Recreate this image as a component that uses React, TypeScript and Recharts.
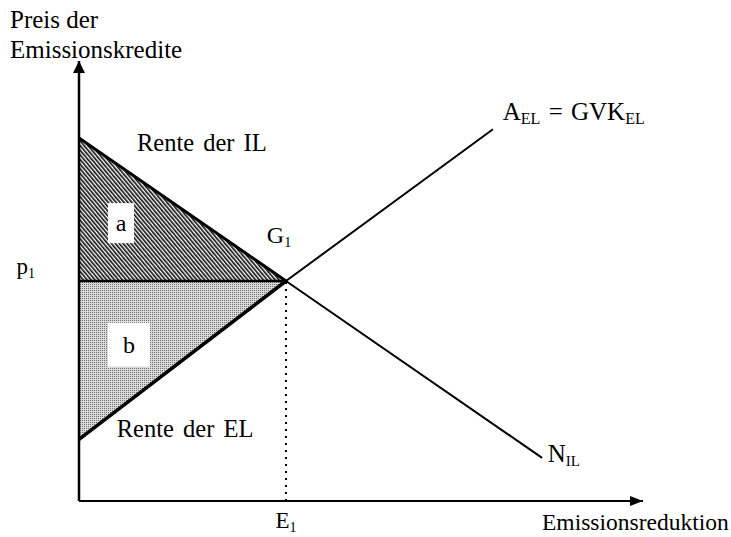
import React from "react";
import {
  ComposedChart,
  Line,
  Area,
  Scatter,
  XAxis,
  YAxis,
  ReferenceLine,
  ReferenceDot,
} from "recharts";

// Nachfrage der IL (N_IL) und Angebot der EL (A_EL = GVK_EL)
const demandX = [0, 40, 89.5];
const demandY = [82.5, 50, 9.8];
const supplyX = [0, 40, 80];
const supplyY = [14, 50, 84.5];

const P1 = 50;
const E1 = 40;
const X_MAX = 109;
const Y_MAX = 100;

const FONT = "'Liberation Serif', 'Times New Roman', serif";

const demand = demandX.map((x, i) => ({ x, y: demandY[i] }));
const supply = supplyX.map((x, i) => ({ x, y: supplyY[i] }));
const demandThick = demand.slice(0, 2);
const supplyThick = supply.slice(0, 2);

// Rente der IL (a) und Rente der EL (b)
const areaA = [
  { x: 0, r: [P1, demandY[0]] },
  { x: E1, r: [P1, P1] },
];
const areaB = [
  { x: 0, r: [supplyY[0], P1] },
  { x: E1, r: [P1, P1] },
];

const Sub = ({ children, size = 14 }: { children: React.ReactNode; size?: number }) => (
  <tspan fontSize={size} dy={4}>
    {children}
  </tspan>
);

type NoteProps = { cx?: number; cy?: number };

const note = (content: React.ReactNode, size = 23, wordSpacing = 0) => (p: NoteProps) => (
  <text x={p.cx} y={p.cy} fontSize={size} fontFamily={FONT} fill="#000" style={{ wordSpacing }}>
    {content}
  </text>
);

const box = (letter: string, w: number, h: number) => (p: NoteProps) => (
  <g>
    <rect x={p.cx} y={p.cy} width={w} height={h} fill="#fff" />
    <text
      x={(p.cx ?? 0) + w / 2}
      y={(p.cy ?? 0) + h / 2 + 8}
      textAnchor="middle"
      fontSize={24}
      fontFamily={FONT}
      fill="#000"
    >
      {letter}
    </text>
  </g>
);

const arrowRight = (p: NoteProps) => {
  const x = p.cx ?? 0;
  const y = p.cy ?? 0;
  return <path d={`M${x},${y} L${x - 13},${y - 5} L${x - 13},${y + 5} Z`} fill="#000" />;
};

const arrowUp = (p: NoteProps) => {
  const x = p.cx ?? 0;
  const y = p.cy ?? 0;
  return <path d={`M${x},${y} L${x - 6},${y + 12} L${x + 6},${y + 12} Z`} fill="#000" />;
};

const XTick = ({ x, y }: { x?: number; y?: number }) => (
  <text x={x} y={(y ?? 0) + 19} textAnchor="middle" fontSize={23} fontFamily={FONT} fill="#000">
    E<Sub>1</Sub>
  </text>
);

const YTick = ({ x, y }: { x?: number; y?: number }) => (
  <text x={(x ?? 0) - 36} y={(y ?? 0) - 7} textAnchor="end" fontSize={23} fontFamily={FONT} fill="#000">
    p<Sub>1</Sub>
  </text>
);

export default function App() {
  return (
    <div style={{ position: "absolute", left: 0, top: 0, background: "#fff" }}>
      <ComposedChart
        width={731}
        height={537}
        margin={{ top: 61, right: 88, bottom: 0, left: 0 }}
        style={{ fontFamily: FONT }}
      >
        <defs>
          <pattern id="hatch" patternUnits="userSpaceOnUse" width={3} height={3} patternTransform="rotate(-40)">
            <rect width={3} height={3} fill="#fff" />
            <line x1={0.8} y1={0} x2={0.8} y2={3} stroke="#111" strokeWidth={1.7} />
          </pattern>
          <pattern id="dots" patternUnits="userSpaceOnUse" width={2} height={2}>
            <rect width={2} height={2} fill="#dadada" />
            <rect width={1} height={1} fill="#707070" />
          </pattern>
        </defs>
        <XAxis
          type="number"
          dataKey="x"
          domain={[0, X_MAX]}
          ticks={[E1]}
          tick={<XTick />}
          tickLine={false}
          axisLine={{ stroke: "#000", strokeWidth: 2 }}
          height={36}
        />
        <YAxis
          type="number"
          dataKey="y"
          domain={[0, Y_MAX]}
          ticks={[P1]}
          tick={<YTick />}
          tickLine={false}
          axisLine={{ stroke: "#000", strokeWidth: 2.5 }}
          width={79}
        />
        <Area data={areaA} dataKey="r" type="linear" fill="url(#hatch)" fillOpacity={1} stroke="none" isAnimationActive={false} />
        <Area data={areaB} dataKey="r" type="linear" fill="url(#dots)" fillOpacity={1} stroke="none" isAnimationActive={false} />
        <ReferenceLine segment={[{ x: 0, y: P1 }, { x: E1, y: P1 }]} stroke="#000" strokeWidth={2.5} />
        <ReferenceLine segment={[{ x: E1, y: 0 }, { x: E1, y: P1 }]} stroke="#000" strokeWidth={2} strokeDasharray="2 5" />
        <Line data={demand} dataKey="y" type="linear" stroke="#000" strokeWidth={2} dot={false} isAnimationActive={false} />
        <Line data={supply} dataKey="y" type="linear" stroke="#000" strokeWidth={2} dot={false} isAnimationActive={false} />
        <Line data={demandThick} dataKey="y" type="linear" stroke="#000" strokeWidth={3} dot={false} isAnimationActive={false} />
        <Line data={supplyThick} dataKey="y" type="linear" stroke="#000" strokeWidth={3.5} dot={false} isAnimationActive={false} />
        <Scatter data={[{ x: X_MAX, y: 0 }]} shape={arrowRight} isAnimationActive={false} />
        <Scatter data={[{ x: 0, y: Y_MAX }]} shape={arrowUp} isAnimationActive={false} />
        <ReferenceDot x={11.2} y={79.5} r={0} shape={note("Rente der IL", 24.5, 3)} />
        <ReferenceDot x={5.6} y={67.7} r={0} shape={box("a", 26, 40)} />
        <ReferenceDot x={5.6} y={40.5} r={0} shape={box("b", 42, 44)} />
        <ReferenceDot x={36.3} y={58.6} r={0} shape={note(<>G<Sub>1</Sub></>, 24)} />
        <ReferenceDot x={7.3} y={14.5} r={0} shape={note("Rente der EL", 24.5, 3)} />
        <ReferenceDot
          x={81.9}
          y={86.6}
          r={0}
          shape={note(
            <>
              A<Sub size={16}>EL</Sub>
              <tspan dy={-4}> = GVK</tspan>
              <Sub size={16}>EL</Sub>
            </>,
            25,
            2
          )}
        />
        <ReferenceDot x={90.6} y={8.9} r={0} shape={note(<>N<Sub size={15}>IL</Sub></>, 25)} />
        <text x={10} y={28} fontSize={25} fontFamily={FONT} fill="#000">Preis der</text>
        <text x={10} y={58} fontSize={25} fontFamily={FONT} fill="#000">Emissionskredite</text>
        <text x={542} y={530} fontSize={23.5} fontFamily={FONT} fill="#000">Emissionsreduktion</text>
      </ComposedChart>
    </div>
  );
}
